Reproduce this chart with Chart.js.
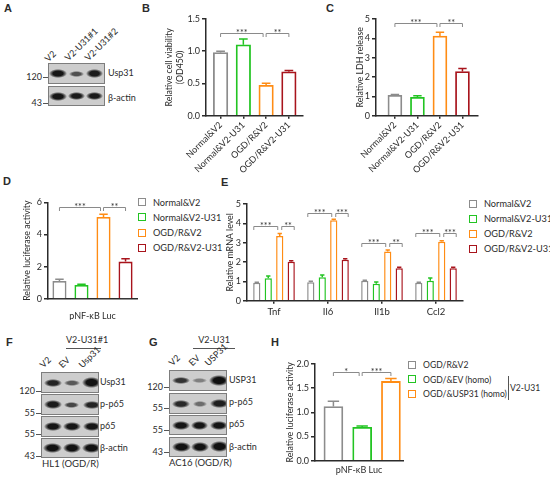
<!DOCTYPE html>
<html lang="en">
<head>
<meta charset="UTF-8">
<script src="https://cdn.jsdelivr.net/npm/chart.js"></script>
<title>Usp31 figure</title>
<style>
  body { margin: 0; width: 550px; height: 479px; position: relative; overflow: hidden; background: #fff; font-family: Lato, sans-serif; color: #2b2b2b; }
  canvas { position: absolute; }
  .t { position: absolute; font-size: 9px; line-height: 12px; white-space: nowrap; }
  .letter { position: absolute; font: bold 11px 'Liberation Sans', Arial, sans-serif; }
  .leg { position: absolute; font-size: 9.2px; line-height: 12px; white-space: nowrap; padding-left: 15px; }
  .leg i { position: absolute; left: 0; top: 1.5px; width: 6px; height: 6px; border: 1.5px solid; background: #fff; }
  .box { position: absolute; background: #cdcdcd; border: 1px solid #7d7d7d; box-sizing: border-box; overflow: hidden; }
  .band { position: absolute; }
  .hline { position: absolute; height: 1px; background: #555; }
  .vline { position: absolute; width: 1px; background: #555; }
  .lane { position: absolute; font-size: 9px; line-height: 10px; white-space: nowrap; transform-origin: 0 100%; transform: rotate(-45deg); }
</style>
</head>
<body>

<div class="letter" style="left:4px;top:2px">A</div>
<div class="letter" style="left:142px;top:2px">B</div>
<div class="letter" style="left:326px;top:2px">C</div>
<div class="letter" style="left:3px;top:175px">D</div>
<div class="letter" style="left:221px;top:176px">E</div>
<div class="letter" style="left:6px;top:336px">F</div>
<div class="letter" style="left:149px;top:336px">G</div>
<div class="letter" style="left:271px;top:336px">H</div>

<div id="blots"></div>
<div id="legends"></div>

<canvas id="chartB"></canvas>
<canvas id="chartC"></canvas>
<canvas id="chartD"></canvas>
<canvas id="chartE"></canvas>
<canvas id="chartH"></canvas>

<script>
// ---- data ----
const groups = ['Normal&V2', 'Normal&V2-U31', 'OGD/R&V2', 'OGD/R&V2-U31'];

const viability = [0.98, 1.10, 0.47, 0.68];
const viabilityErr = [0.02, 0.09, 0.035, 0.02];
const viabilityTicks = [0, 0.5, 1.0, 1.5];

const ldh = [1.05, 0.95, 4.12, 2.28];
const ldhErr = [0.05, 0.08, 0.2, 0.16];
const ldhTicks = [0, 1, 2, 3, 4, 5];

const lucD = [1.12, 0.87, 5.09, 2.32];
const lucDErr = [0.1, 0.04, 0.17, 0.18];
const lucDTicks = [0, 2, 4, 6];

const genes = ['Tnf', 'Il6', 'Il1b', 'Ccl2'];
const mrnaNormalV2 = [0.93, 0.95, 1.03, 0.93];
const mrnaNormalU31 = [1.16, 1.21, 0.88, 1.03];
const mrnaOgdV2 = [3.35, 4.16, 2.55, 3.05];
const mrnaOgdU31 = [2.02, 2.12, 1.68, 1.68];
const mrnaNormalV2Err = [0.03, 0.05, 0.03, 0.02];
const mrnaNormalU31Err = [0.12, 0.12, 0.09, 0.15];
const mrnaOgdV2Err = [0.13, 0.05, 0.07, 0.05];
const mrnaOgdU31Err = [0.05, 0.05, 0.05, 0.05];
const mrnaTicks = [0, 1, 2, 3, 4, 5];

const groupsH = ['OGD/R&V2', 'OGD/&EV (homo)', 'OGD/&USP31 (homo)'];
const lucH = [1.12, 0.69, 1.64];
const lucHErr = [0.11, 0.03, 0.06];
const lucHTicks = [0, 0.5, 1.0, 1.5, 2.0];

const palette = ['#8c8c8c', '#22c422', '#ff8c14', '#a8141c'];
const axisColor = '#2b2b2b';

// ---- plugins ----
const errorBars = {
  id: 'errorBars',
  afterDatasetsDraw(chart) {
    const ctx = chart.ctx, ys = chart.scales.y;
    chart.data.datasets.forEach((ds, i) => {
      if (!ds.errors) return;
      chart.getDatasetMeta(i).data.forEach((bar, j) => {
        const d = ds.data[j];
        const v = typeof d === 'object' ? d.y : d;
        const top = ys.getPixelForValue(v + ds.errors[j]);
        const col = Array.isArray(ds.borderColor) ? ds.borderColor[j] : ds.borderColor;
        const half = bar.width * 0.3;
        ctx.save();
        ctx.strokeStyle = col;
        ctx.lineWidth = 1.5;
        ctx.beginPath();
        ctx.moveTo(bar.x, bar.y);
        ctx.lineTo(bar.x, top);
        ctx.moveTo(bar.x - half, top);
        ctx.lineTo(bar.x + half, top);
        ctx.stroke();
        ctx.restore();
      });
    });
  }
};

const brackets = {
  id: 'brackets',
  afterDatasetsDraw(chart, args, opts) {
    const items = opts.items || [];
    const ctx = chart.ctx, ys = chart.scales.y;
    items.forEach(b => {
      const e1 = chart.getDatasetMeta(b.a[0]).data[b.a[1]];
      const e2 = chart.getDatasetMeta(b.b[0]).data[b.b[1]];
      const x1 = e1.x + (b.da || 0), x2 = e2.x + (b.db || 0);
      const py = Math.round(ys.getPixelForValue(b.y)) + 0.5;
      ctx.save();
      ctx.strokeStyle = '#8a8a8a';
      ctx.lineWidth = 1;
      ctx.beginPath();
      ctx.moveTo(x1, py + 3.5);
      ctx.lineTo(x1, py);
      ctx.lineTo(x2, py);
      ctx.lineTo(x2, py + 3.5);
      ctx.stroke();
      ctx.fillStyle = '#333';
      ctx.font = '9px Lato';
      ctx.textAlign = 'center';
      ctx.fillText(b.text, (x1 + x2) / 2, py + 2.5);
      ctx.restore();
    });
  }
};

Chart.register(errorBars, brackets);
Chart.defaults.font.family = 'Lato, sans-serif';
Chart.defaults.font.size = 9;
Chart.defaults.color = axisColor;
Chart.defaults.animation = false;
Chart.defaults.responsive = false;
Chart.defaults.plugins.legend.display = false;
Chart.defaults.plugins.tooltip.enabled = false;

// ---- helpers ----
function place(id, box) {
  const c = document.getElementById(id);
  c.width = box.w; c.height = box.h;
  c.style.left = box.l + 'px'; c.style.top = box.t + 'px';
  c.style.width = box.w + 'px'; c.style.height = box.h + 'px';
  return c;
}

function yAxis(ticks, box, area, title, fmt) {
  return {
    min: ticks[0], max: ticks[ticks.length - 1],
    afterFit: s => { s.width = area.l - box.l; },
    afterBuildTicks: s => { s.ticks = ticks.map(v => ({ value: v })); },
    border: { color: axisColor, width: 1.5 },
    grid: { drawOnChartArea: false, tickLength: 4, color: axisColor, lineWidth: 1.5 },
    ticks: { padding: 2, callback: fmt, font: { size: 9 } },
    title: { display: true, text: title, font: { size: 8.8 }, padding: { top: 4, bottom: 2 } }
  };
}

function layout(box, area) {
  return { padding: { top: area.t - box.t, right: box.l + box.w - area.r, left: 0, bottom: 0 } };
}

function barChart(id, box, area, labels, values, errs, ticks, fmt, title, xmin, xmax, thick, items) {
  const canvas = place(id, box);
  return new Chart(canvas, {
    type: 'bar',
    data: {
      datasets: [{
        data: values.map((v, i) => ({ x: i, y: v })),
        errors: errs,
        backgroundColor: '#fff',
        borderColor: palette,
        borderWidth: 1.8,
        barThickness: thick
      }]
    },
    options: {
      layout: layout(box, area),
      plugins: { brackets: { items } },
      scales: {
        x: {
          type: 'linear', min: xmin, max: xmax, offset: false,
          afterFit: s => { s.height = box.t + box.h - area.b; },
          afterBuildTicks: s => { s.ticks = labels.map((_, i) => ({ value: i })); },
          border: { color: axisColor, width: 1.5 },
          grid: { offset: false, drawOnChartArea: false, tickLength: 3, color: axisColor, lineWidth: 1.5 },
          ticks: { autoSkip: false, minRotation: 45, maxRotation: 45, padding: 1, font: { size: 9 },
                   callback: v => labels[v] }
        },
        y: yAxis(ticks, box, area, title, fmt)
      }
    }
  });
}

// ---- B ----
const boxB = { l: 160, t: 0, w: 150, h: 175 }, areaB = { l: 206, t: 19, r: 303, b: 115.7 };
barChart('chartB', boxB, areaB, groups, viability, viabilityErr, viabilityTicks, v => v.toFixed(1),
  ['Relative cell viability', '(OD450)'], -0.64, 3.62, 14.5,
  [{ a: [0, 0], b: [0, 2], y: 1.28, text: '***', db: -3 }, { a: [0, 2], b: [0, 3], y: 1.28, text: '**', da: 0 }]);

// ---- C ----
const boxC = { l: 351, t: 0, w: 135, h: 175 }, areaC = { l: 376, t: 19, r: 478, b: 115.7 };
barChart('chartC', boxC, areaC, groups, ldh, ldhErr, ldhTicks, v => v,
  'Relative LDH release', -0.84, 3.69, 14,
  [{ a: [0, 0], b: [0, 2], y: 4.8, text: '***', db: -3 }, { a: [0, 2], b: [0, 3], y: 4.8, text: '**', da: 0 }]);

// ---- D ----
const boxD = { l: 18, t: 190, w: 125, h: 130 }, areaD = { l: 48, t: 202.3, r: 137, b: 299 };
new Chart(place('chartD', boxD), {
  type: 'bar',
  data: {
    labels: ['pNF-κB Luc'],
    datasets: groups.map((g, i) => ({
      label: g, data: [lucD[i]], errors: [lucDErr[i]],
      backgroundColor: '#fff', borderColor: palette[i], borderWidth: 1.8,
      barPercentage: 0.64, categoryPercentage: 0.99
    }))
  },
  options: {
    layout: layout(boxD, areaD),
    plugins: { brackets: { items: [
      { a: [0, 0], b: [2, 0], y: 5.7, text: '***', db: -3 },
      { a: [2, 0], b: [3, 0], y: 5.7, text: '**', da: 0 }
    ] } },
    scales: {
      x: {
        afterFit: s => { s.height = boxD.t + boxD.h - areaD.b; },
        border: { color: axisColor, width: 1.5 },
        grid: { display: false },
        ticks: { padding: 4, font: { size: 9 } }
      },
      y: yAxis(lucDTicks, boxD, areaD, 'Relative luciferase activity', v => v)
    }
  }
});

// ---- E ----
const boxE = { l: 221, t: 190, w: 247, h: 130 }, areaE = { l: 247, t: 204, r: 463, b: 300.7 };
const mrnaSeries = [mrnaNormalV2, mrnaNormalU31, mrnaOgdV2, mrnaOgdU31];
const mrnaErrs = [mrnaNormalV2Err, mrnaNormalU31Err, mrnaOgdV2Err, mrnaOgdU31Err];
const eLevels = [3.88, 4.55, 2.97, 3.49];
const eStars = [['***', '**'], ['***', '***'], ['***', '**'], ['***', '***']];
const eItems = [];
genes.forEach((g, j) => {
  eItems.push({ a: [0, j], b: [2, j], y: eLevels[j], text: eStars[j][0], da: -3, db: -2 });
  eItems.push({ a: [2, j], b: [3, j], y: eLevels[j], text: eStars[j][1], da: 2, db: 3 });
});
new Chart(place('chartE', boxE), {
  type: 'bar',
  data: {
    labels: genes,
    datasets: groups.map((g, i) => ({
      label: g, data: mrnaSeries[i], errors: mrnaErrs[i],
      backgroundColor: '#fff', borderColor: palette[i], borderWidth: 1.5,
      barPercentage: 0.63, categoryPercentage: 0.85
    }))
  },
  options: {
    layout: layout(boxE, areaE),
    plugins: { brackets: { items: eItems } },
    scales: {
      x: {
        afterFit: s => { s.height = boxE.t + boxE.h - areaE.b; },
        border: { color: axisColor, width: 1.5 },
        grid: { offset: false, drawOnChartArea: false, tickLength: 3, color: axisColor, lineWidth: 1.5 },
        ticks: { padding: 3, font: { size: 9.5 } }
      },
      y: yAxis(mrnaTicks, boxE, areaE, 'Relative mRNA level', v => v)
    }
  }
});

// ---- H ----
const boxH = { l: 281, t: 350, w: 127, h: 129 }, areaH = { l: 315, t: 364, r: 403, b: 460.7 };
new Chart(place('chartH', boxH), {
  type: 'bar',
  data: {
    datasets: [{
      data: lucH.map((v, i) => ({ x: i, y: v })),
      errors: lucHErr,
      backgroundColor: '#fff', borderColor: palette.slice(0, 3), borderWidth: 1.8,
      barThickness: 19
    }]
  },
  options: {
    layout: layout(boxH, areaH),
    plugins: { brackets: { items: [
      { a: [0, 0], b: [0, 1], y: 1.84, text: '*', db: -3 },
      { a: [0, 1], b: [0, 2], y: 1.84, text: '***', da: 0 }
    ] } },
    scales: {
      x: {
        type: 'linear', min: -0.64, max: 2.42, offset: false,
        afterFit: s => { s.height = boxH.t + boxH.h - areaH.b; },
        border: { color: axisColor, width: 1.5 },
        grid: { display: false },
        ticks: { display: false },
        title: { display: true, text: 'pNF-κB Luc', font: { size: 9 }, padding: { top: 0, bottom: 4 } }
      },
      y: yAxis(lucHTicks, boxH, areaH, 'Relative luciferase activity', v => v.toFixed(1))
    }
  }
});

// ---- legends ----
const legendHost = document.getElementById('legends');
function legend(x, ys, names, cols, size) {
  names.forEach((n, i) => {
    const d = document.createElement('div');
    d.className = 'leg';
    d.style.left = x + 'px';
    d.style.top = (ys[i] - 6) + 'px';
    if (size) d.style.fontSize = size + 'px';
    d.innerHTML = '<i style="border-color:' + cols[i] + '"></i>' + n;
    legendHost.appendChild(d);
  });
}
legend(138, [202.7, 217.9, 233.1, 248.3], groups, palette);
legend(469, [204, 219.1, 234.2, 249.3], groups, palette);
legend(408, [365, 379.7, 394.4], groupsH, palette, 8.6);

// ---- blots ----
const host = document.getElementById('blots');
function el(cls, style, html) {
  const d = document.createElement('div');
  d.className = cls;
  d.style.cssText = style;
  if (html) d.innerHTML = html;
  host.appendChild(d);
  return d;
}
function blot(x, y, w, h, lanes, strength, bw, bh) {
  const b = el('box', `left:${x}px;top:${y}px;width:${w}px;height:${h}px`);
  lanes.forEach((cx, i) => {
    const a = strength[i], ww = bw[i], hh = bh[i];
    const d = document.createElement('div');
    d.className = 'band';
    d.style.cssText = `left:${cx - x - ww / 2}px;top:${h / 2 - hh / 2 - 1}px;width:${ww}px;height:${hh}px;` +
      `background:radial-gradient(closest-side, rgba(12,12,12,${a}) 55%, rgba(12,12,12,${a * 0.5}) 80%, rgba(12,12,12,0) 100%)`;
    b.appendChild(d);
  });
}
function text(x, yc, s, extra) { el('t', `left:${x}px;top:${yc - 6}px;${extra || ''}`, s); }
function rtext(xr, yc, s) { el('t', `right:${550 - xr}px;top:${yc - 6}px;text-align:right`, s); }
function marker(xBox, yc, s) {
  rtext(xBox - 6, yc, s);
  el('hline', `left:${xBox - 5}px;top:${yc}px;width:5px`);
}
function lane(x, yb, s) { el('lane', `left:${x}px;top:${yb - 10}px`, s); }

// A
lane(50, 64, 'V2'); lane(70, 63, 'V2-U31#1'); lane(90, 63, 'V2-U31#2');
blot(48, 63, 57, 21, [57, 75, 93], [0.95, 0.65, 0.92], [18, 15, 17], [9, 6, 9]);
blot(48, 86, 57, 20, [57, 75, 93], [0.95, 0.93, 0.93], [18, 17, 17], [9, 8, 8]);
text(108, 73, 'Usp31'); text(108, 98, 'β-actin');
marker(48, 77, '120'); marker(48, 103, '43');

// F
text(66, 340, 'V2-U31#1', 'width:35px;text-align:center');
el('hline', 'left:66px;top:348px;width:35px');
lane(45, 370, 'V2'); lane(64, 370, 'EV'); lane(84, 370, 'Usp31');
const lanesF = [51.5, 70.5, 90.5];
blot(41, 372, 58, 21, lanesF, [0.88, 0.6, 0.97], [18, 16, 19], [8, 6, 11]);
blot(41, 394, 58, 21, lanesF, [0.92, 0.7, 0.88], [18, 15, 18], [9, 6, 8]);
blot(41, 416, 58, 20.5, lanesF, [0.95, 0.95, 0.95], [18, 18, 18], [9, 9, 9]);
blot(41, 437.5, 58, 20.5, lanesF, [0.97, 0.97, 0.97], [19, 18, 19], [10, 10, 10]);
text(100, 381.7, 'Usp31'); text(100, 404, 'p-p65'); text(100, 425.7, 'p65'); text(100, 448.3, 'β-actin');
marker(41, 391, '120'); marker(41, 412.7, '55'); marker(41, 434, '55'); marker(41, 455.7, '43');
text(42, 464.3, 'HL1 (OGD/R)', 'font-size:9.5px');

// G
text(193, 340, 'V2-U31', 'width:42px;text-align:center');
el('hline', 'left:193px;top:347.7px;width:42px');
lane(174, 368, 'V2'); lane(194, 368, 'EV'); lane(210, 368, 'USP31');
const lanesG = [180, 198.5, 218];
blot(169, 370, 58, 21, lanesG, [0.8, 0.4, 0.98], [18, 15, 20], [7, 5, 11]);
blot(169, 393, 58, 21, lanesG, [0.85, 0.5, 0.9], [18, 14, 19], [8, 6, 9]);
blot(169, 415, 58, 20, lanesG, [0.95, 0.95, 0.95], [18, 17, 18], [9, 9, 9]);
blot(169, 436.7, 58, 20.5, lanesG, [0.97, 0.97, 0.97], [19, 18, 19], [10, 10, 11]);
text(229, 380, 'USP31'); text(229, 402, 'p-p65'); text(229, 424, 'p65'); text(229, 446.7, 'β-actin');
marker(169, 386.7, '120'); marker(169, 408, '55'); marker(169, 430, '55'); marker(169, 451.7, '43');
text(169, 463.3, 'AC16 (OGD/R)', 'font-size:9.5px');

// H side note
el('vline', 'left:508px;top:375.7px;height:24.3px');
text(510, 387.7, 'V2-U31', 'font-size:8.6px');
</script>
</body>
</html>
